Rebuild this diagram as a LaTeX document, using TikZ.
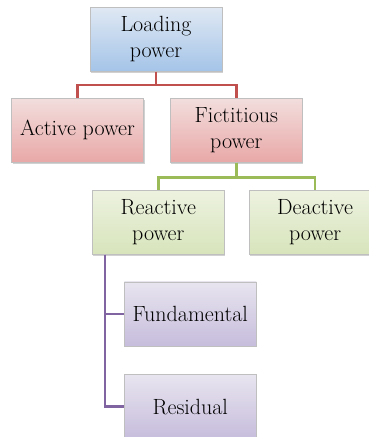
\documentclass[tikz,border=0pt]{standalone}
\usepackage{fontspec}
\usepackage{xcolor}
\usetikzlibrary{positioning, shadows}

\definecolor{bluetop}{HTML}{DFE8F3}
\definecolor{bluebot}{HTML}{A4C4E8}
\definecolor{redtop}{HTML}{F2DEDD}
\definecolor{redbot}{HTML}{E8A8A7}
\definecolor{greentop}{HTML}{EDF2E0}
\definecolor{greenbot}{HTML}{D7E4BB}
\definecolor{purptop}{HTML}{E8E4EF}
\definecolor{purpbot}{HTML}{C6BDDC}
\definecolor{redline}{HTML}{C0504D}
\definecolor{greenline}{HTML}{9BBB59}
\definecolor{purpline}{HTML}{8064A2}

\begin{document}
\begin{tikzpicture}[
        x=1pt, y=1pt,
        box/.style={draw=black!25, line width=0.8pt, rectangle,
            minimum width=132pt, minimum height=64pt, align=center,
            inner sep=2pt, font=\fontsize{22}{26}\selectfont,
            drop shadow={shadow xshift=1pt, shadow yshift=-1.5pt,
                opacity=0.3, fill=black!60}},
        bluebox/.style={box, top color=bluetop, bottom color=bluebot},
        redbox/.style={box, top color=redtop, bottom color=redbot},
        greenbox/.style={box, top color=greentop, bottom color=greenbot},
        purpbox/.style={box, top color=purptop, bottom color=purpbot},
        link/.style={draw, line width=2.6pt},
    ]

    \useasboundingbox (0,0) rectangle (369,-437);

    % 1. Top level
    \node[bluebox] (load) at (156,-39.5) {Loading\\power};

    % 2. Second level
    \node[redbox, below=26pt of load, xshift=-78.5pt] (act) {Active power};
    \node[redbox, right=26pt of act] (fict) {Fictitious\\power};

    % 3. Third level
    \node[greenbox, below=27pt of fict, xshift=-78pt] (react) {Reactive\\power};
    \node[greenbox, right=24pt of react] (deact) {Deactive\\power};

    % 4. Fourth level
    \node[purpbox, below=27pt of react, xshift=32pt] (fund) {Fundamental};
    \node[purpbox, below=28pt of fund] (resid) {Residual};

    % --- Connectors ---
    \path[link, redline] (load.south) -- ++(0,-13) -| (act.north);
    \path[link, redline] (load.south) -- ++(0,-13) -| (fict.north);
    \path[link, greenline] (fict.south) -- ++(0,-15) -| (react.north);
    \path[link, greenline] (fict.south) -- ++(0,-15) -| (deact.north);
    \path[link, purpline] ([xshift=13pt]react.south west) |- (fund.west);
    \path[link, purpline] ([xshift=13pt]react.south west) |- (resid.west);

\end{tikzpicture}
\end{document}
